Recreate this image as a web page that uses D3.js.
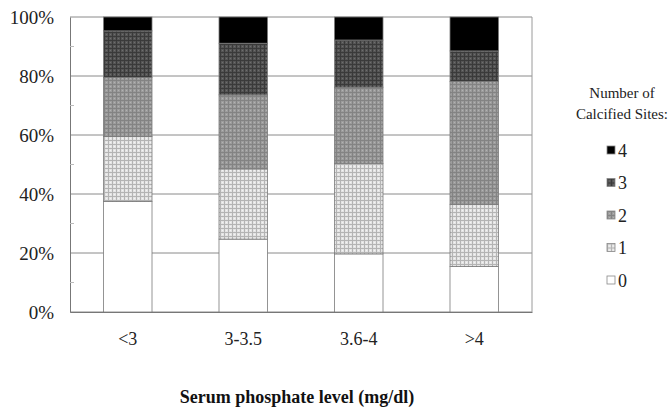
<!DOCTYPE html>
<html><head><meta charset="utf-8">
<script src="https://cdn.jsdelivr.net/npm/d3@7"></script>
<style>body{margin:0;background:#fff}svg{display:block}svg text{font-family:"Liberation Serif","Times New Roman",Times,"DejaVu Serif",serif}</style>
</head><body>
<svg id="c" width="669" height="407"></svg>
<script>
const categories = ["<3", "3-3.5", "3.6-4", ">4"];
const seriesKeys = ["0", "1", "2", "3", "4"];
const s0 = [37.5, 24.7, 19.7, 15.4];
const s1 = [22.0, 23.8, 30.7, 21.1];
const s2 = [20.0, 25.1, 25.8, 41.6];
const s3 = [15.8, 17.5, 16.0, 10.4];
const s4 = [4.7, 8.9, 7.8, 11.5];
const yTicks = [0, 20, 40, 60, 80, 100];
const minorTicks = [10, 30, 50, 70, 90];
const legendTitle = ["Number of", "Calcified Sites:"];
const xTitle = "Serum phosphate level (mg/dl)";

const seriesVals = [s0, s1, s2, s3, s4];
const rows = categories.map((c, i) => {
  const r = {cat: c};
  seriesKeys.forEach((k, j) => r[k] = seriesVals[j][i]);
  return r;
});
const stacked = d3.stack().keys(seriesKeys)(rows);

const svg = d3.select("#c");
const m = {l: 70, r: 532, t: 17, b: 312};
const x = d3.scaleBand().domain(categories).range([m.l, m.r]).paddingInner(0.58).paddingOuter(0.29);
const y = d3.scaleLinear().domain([0, 100]).range([m.b, m.t]);

// patterns
const defs = svg.append("defs");
const pats = [
  null,
  {base: "#e4e4e4", line: "#b4b4b4", line2: "#f4f4f4"},
  {base: "#9c9c9c", line: "#838383", line2: "#b2b2b2"},
  {base: "#555555", line: "#3a3a3a", line2: "#6e6e6e"},
  null
];
pats.forEach((p, i) => {
  if (!p) return;
  const pt = defs.append("pattern").attr("id", "p" + i).attr("patternUnits", "userSpaceOnUse")
    .attr("width", 4).attr("height", 4);
  pt.append("rect").attr("width", 4).attr("height", 4).attr("fill", p.base);
  pt.append("rect").attr("x", 0).attr("y", 0).attr("width", 4).attr("height", 1).attr("fill", p.line);
  pt.append("rect").attr("x", 0).attr("y", 0).attr("width", 1).attr("height", 4).attr("fill", p.line);
  pt.append("rect").attr("x", 2).attr("y", 2).attr("width", 1).attr("height", 1).attr("fill", p.line2);
});
const fills = ["#ffffff", "url(#p1)", "url(#p2)", "url(#p3)", "#000000"];

// gridlines
svg.append("g").selectAll("line").data(yTicks).join("line")
  .attr("x1", m.l).attr("x2", m.r).attr("y1", d => y(d)).attr("y2", d => y(d))
  .attr("stroke", "#8a8a8a").attr("stroke-width", 1);
// right border
svg.append("line").attr("x1", m.r).attr("x2", m.r).attr("y1", m.t).attr("y2", m.b)
  .attr("stroke", "#9a9a9a");

// bars
svg.append("g").selectAll("g").data(stacked).join("g")
  .attr("fill", (d, i) => fills[i])
  .selectAll("rect").data(d => d).join("rect")
  .attr("x", d => x(d.data.cat))
  .attr("width", x.bandwidth())
  .attr("y", d => y(d[1]))
  .attr("height", d => y(d[0]) - y(d[1]))
  .attr("stroke", "#7a7a7a").attr("stroke-width", 0.8);

// y axis
const ya = svg.append("g").attr("transform", `translate(${m.l},0)`)
  .call(d3.axisLeft(y).tickValues(yTicks).tickFormat(d => d + "%").tickSize(0).tickPadding(16));
ya.select(".domain").attr("stroke", "#777");
ya.selectAll("text").attr("font-size", 19).attr("fill", "#222");
svg.append("g").selectAll("line").data(minorTicks).join("line")
  .attr("x1", m.l).attr("x2", m.l + 4).attr("y1", d => y(d)).attr("y2", d => y(d))
  .attr("stroke", "#bbb");

// x axis
const xa = svg.append("g").attr("transform", `translate(0,${m.b})`)
  .call(d3.axisBottom(x).tickSize(0).tickPadding(20));
xa.select(".domain").attr("stroke", "#777");
xa.selectAll("text").attr("font-size", 18).attr("fill", "#222");

svg.append("text").attr("x", 297).attr("y", 403).attr("text-anchor", "middle")
  .attr("font-size", 18).attr("font-weight", "bold").attr("fill", "#111")
  .text(xTitle);

// legend
const lg = svg.append("g");
lg.selectAll("text.t").data(legendTitle).join("text").attr("class", "t")
  .attr("x", 622).attr("y", (d, i) => 98 + i * 21).attr("text-anchor", "middle")
  .attr("font-size", 15).attr("fill", "#222").text(d => d);
const order = seriesKeys.map((k, i) => i).reverse();
const li = lg.selectAll("g.i").data(order).join("g").attr("class", "i")
  .attr("transform", (d, j) => `translate(607,${150 + j * 32.5})`);
li.append("rect").attr("x", 0).attr("y", -4).attr("width", 8).attr("height", 8)
  .attr("fill", d => fills[d]).attr("stroke", "#888").attr("stroke-width", 0.8);
li.append("text").attr("x", 11).attr("y", 6.5).attr("font-size", 18)
  .attr("fill", "#222").text(d => seriesKeys[d]);
</script>
</body></html>
